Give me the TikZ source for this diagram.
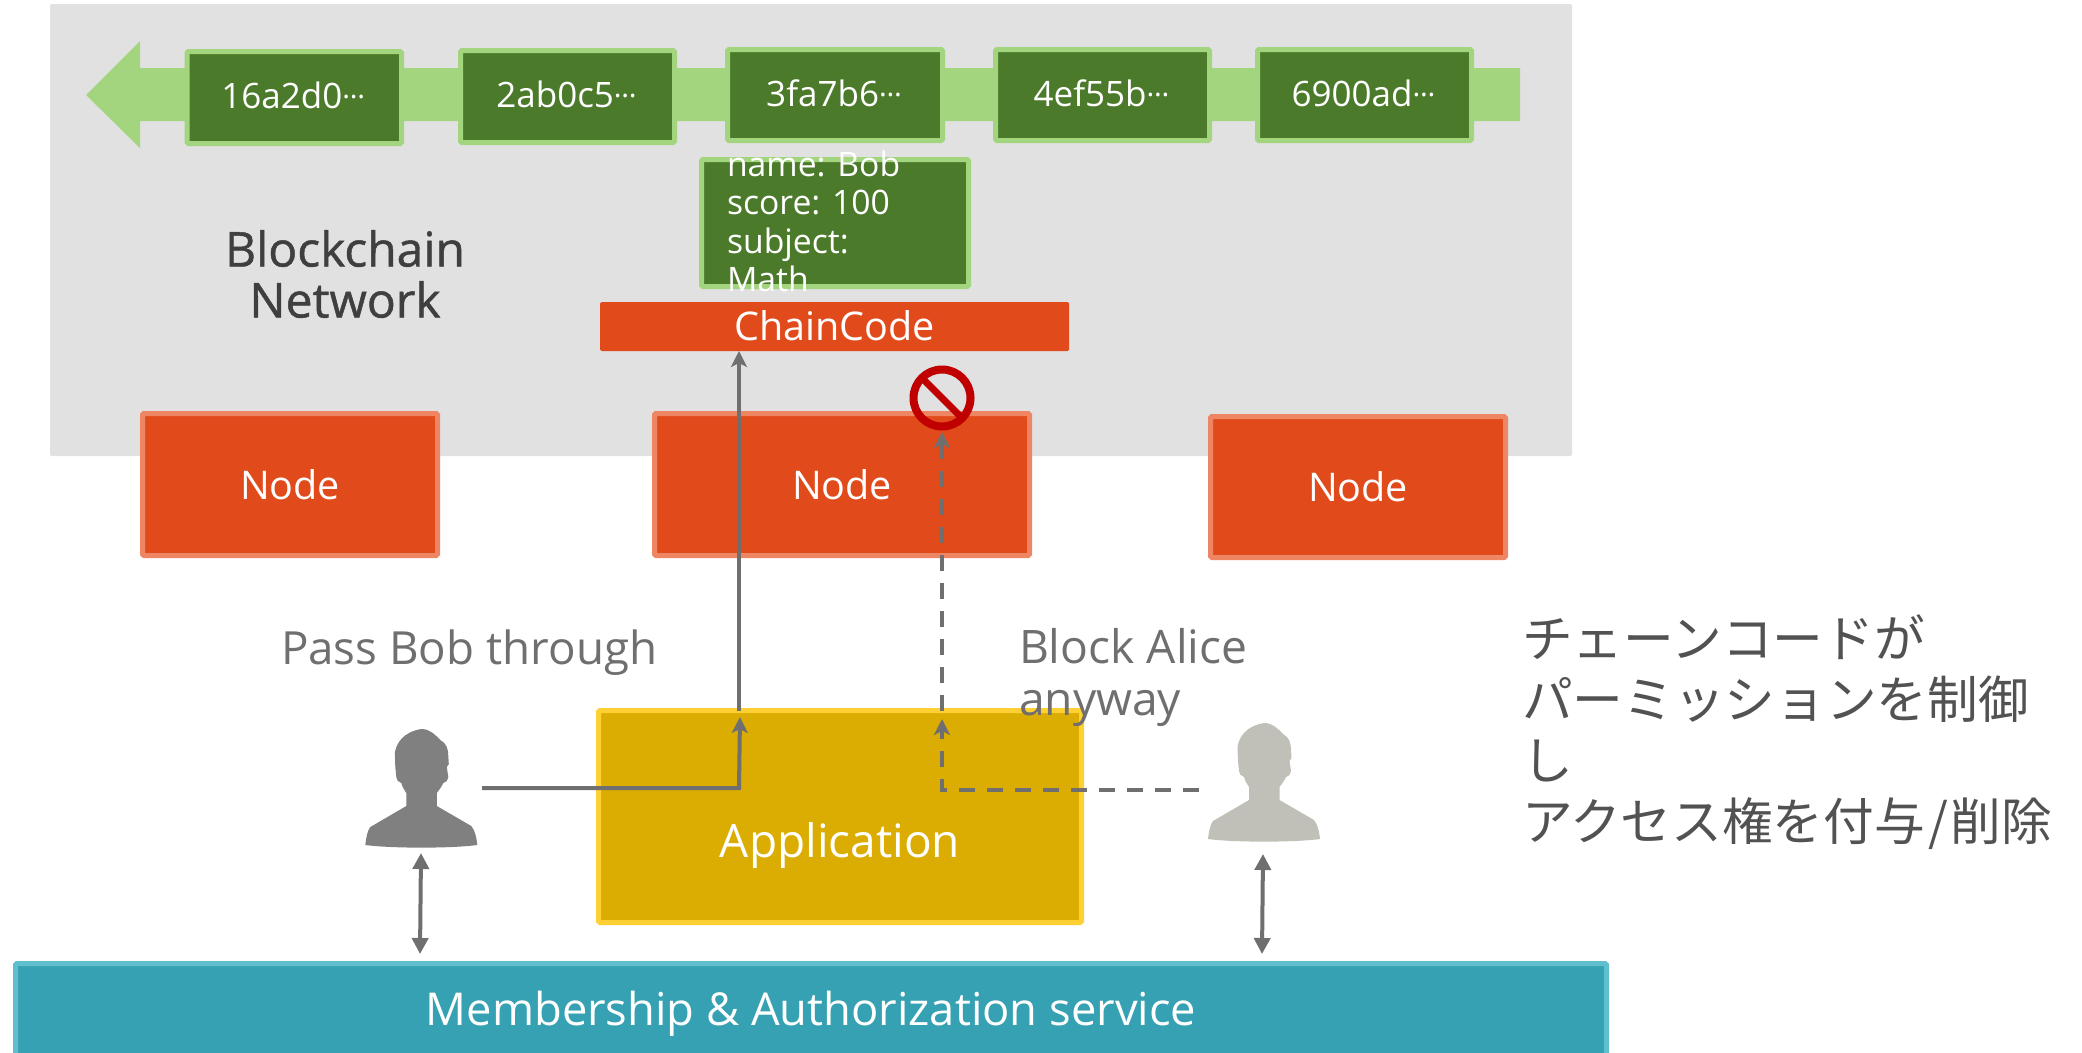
\documentclass[tikz,border=0pt]{standalone}
\usepackage{fontspec}
\setmainfont{Open Sans}
\newfontfamily\cjk{Noto Sans CJK JP}
\newfontfamily\titlefont[FakeBold=1.0]{Open Sans}
\usetikzlibrary{arrows.meta}
\definecolor{panelgrey}{HTML}{E1E1E1}
\definecolor{lgreen}{HTML}{A3D57F}
\definecolor{dgreen}{HTML}{4C7A2B}
\definecolor{orangefill}{HTML}{E14B1B}
\definecolor{orangeline}{HTML}{EE8563}
\definecolor{yellowfill}{HTML}{DBAC02}
\definecolor{yellowline}{HTML}{FFD033}
\definecolor{tealfill}{HTML}{36A1B2}
\definecolor{tealline}{HTML}{5FBFCE}
\definecolor{connector}{HTML}{6F6F6F}
\definecolor{darktext}{HTML}{3F3F3F}
\definecolor{signred}{HTML}{C00000}
\definecolor{personA}{HTML}{808080}
\definecolor{personB}{HTML}{C0C0B8}
\newcommand{\fsz}[1]{\fontsize{#1}{#1}\selectfont}
\newcommand{\blk}[1]{\smash{\raisebox{-11pt}{#1\raisebox{10pt}{\fsz{29}…}}}\kern2pt}
\newcommand{\bx}[7]{%
  \pgfmathsetmacro\cxv{(#2+#4)/2}\pgfmathsetmacro\cyv{(#3+#5)/2}%
  \pgfmathsetmacro\wwv{#4-#2-5}\pgfmathsetmacro\hhv{#5-#3-5}%
  \node[#6,minimum width=\wwv pt,minimum height=\hhv pt] (#1) at (\cxv,\cyv) {#7};}
\tikzset{
  x=1pt,y=-1pt,
  basebox/.style={draw,line width=5pt,inner sep=0pt,outer sep=0pt,text=white,rounded corners=1.5pt},
  blockbox/.style={basebox,fill=dgreen,draw=lgreen,font=\fsz{35}},
  nodebox/.style={basebox,fill=orangefill,draw=orangeline,font=\fsz{39.5}},
  appbox/.style={basebox,fill=yellowfill,draw=yellowline},
  svcbox/.style={basebox,fill=tealfill,draw=tealline},
  lbl/.style={inner sep=0pt,outer sep=0pt},
  conn/.style={draw=connector,line width=4pt,-{Stealth[length=16pt,width=16pt,inset=4pt]}},
  dashedconn/.style={dash pattern=on 16pt off 12pt},
  biconn/.style={draw=connector,line width=4pt,{Triangle[length=16pt,width=16pt]}-{Triangle[length=16pt,width=16pt]}},
  person/.pic={
    \fill[pic actions]
      (0,0) .. controls (9,0) and (14,6) .. (19,11)
      .. controls (25,14) and (27,20) .. (27,27)
      -- (27.5,35) -- (25.5,38) -- (27,48)
      .. controls (26,52) and (24,54) .. (22,54)
      .. controls (20,58) and (18,61) .. (15.5,64)
      -- (15.5,77) -- (50,97)
      .. controls (54,102) and (55,108) .. (56,116)
      .. controls (30,119.5) and (-30,119.5) .. (-56,116)
      .. controls (-55,108) and (-54,102) .. (-51,98)
      -- (-15,77) -- (-15,64)
      .. controls (-17,61) and (-19,58) .. (-20,54)
      .. controls (-23,53) and (-25,51) .. (-25,48)
      -- (-26,38) -- (-26.5,24)
      .. controls (-25,14) and (-18,3) .. (0,0) -- cycle;
  },
}
\begin{document}
\begin{tikzpicture}
\clip (0,0) rectangle (2082,1052);
\useasboundingbox (0,0) rectangle (2082,1052);
\fill[white] (0,0) rectangle (2082,1052);
% panel
\fill[panelgrey,rounded corners=2pt] (50,4) rectangle (1572,456);
% chain arrow
\fill[lgreen] (86,95) -- (140,41) -- (140,68) -- (1520,68) -- (1520,121) -- (140,121) -- (140,148) -- cycle;
% blocks
\bx{b1}{184.5}{49}{404}{146}{blockbox}{\blk{16a2d0}}
\bx{b2}{458}{48}{677}{145}{blockbox}{\blk{2ab0c5}}
\bx{b3}{725}{47}{945}{143}{blockbox}{\blk{3fa7b6}}
\bx{b4}{993}{47}{1212}{143}{blockbox}{\blk{4ef55b}}
\bx{b5}{1255}{47}{1474}{143}{blockbox}{\blk{6900ad}}
\bx{data}{699}{157}{971}{289}{blockbox}{}
\node[lbl,anchor=north west,align=left,text=white,font=\fontsize{33.7}{38.3}\selectfont] (datatext) at (727,151) {name: Bob\\score: 100\\subject:\\Math};
\node[lbl,rectangle,fill=orangefill,draw=none,rounded corners=1.5pt,minimum width=469pt,minimum height=49pt,text=white,font=\fsz{39.5}] (chain) at (834.5,326.5) {\smash{\raisebox{-14pt}{ChainCode}}};
\node[lbl,text=darktext,align=center,font=\fontsize{48}{51}\titlefont] (title) at (345,274) {Blockchain\\Network};
% nodes
\bx{n1}{140}{411}{440}{558}{nodebox}{Node}
\bx{n2}{652}{411}{1032}{558}{nodebox}{Node}
\bx{n3}{1208}{414}{1508}{560}{nodebox}{Node}
\bx{app}{596}{708}{1084}{925}{appbox}{}
\node[lbl,text=white,font=\fsz{46}] (apptext) at (840,846) {Application};
\bx{svc}{13}{961}{1609}{1066}{svcbox}{}
\node[lbl,text=white,font=\fsz{45.3}] (svctext) at (811,1014) {Membership \& Authorization service};
% labels
\node[lbl,anchor=west,text=connector,font=\fsz{45.7}] (pass) at (281,653) {Pass Bob through};
\node[lbl,anchor=north west,align=left,text=connector,font=\fontsize{46.2}{52}\selectfont] (blockl) at (1019,628) {Block Alice\\anyway};
\node[lbl,anchor=west,align=left,text=darktext!90,font=\fontsize{50.7}{61}\cjk\selectfont] (note) at (1522,732) {チェーンコードが\\パーミッションを制御\\し\\アクセス権を付与\kern3pt/\kern3pt削除};
% people
\pic[personA] (bob) at (421.3,729) {person};
\pic[personB] (alice) at (1264,723) {person};
% connector points
\coordinate (bobout) at (482,788);
\coordinate (bobturn) at (739,788);
\coordinate (appin) at (740,717);
\coordinate (appout) at (739,711);
\coordinate (chainin) at (739,351);
\coordinate (aliceout) at (1199,790);
\coordinate (aliceturn) at (942,790);
\coordinate (appin2) at (942,719);
\coordinate (appout2) at (942,711);
\coordinate (signin) at (942,432);
\coordinate (bobup) at (421,853);
\coordinate (bobdn) at (420,954);
\coordinate (aliceup) at (1263,854);
\coordinate (alicedn) at (1262,954);
% connectors
\draw[conn] (bobout) -- (bobturn) -- (appin);
\draw[conn] (appout) -- (chainin);
\draw[conn,dashedconn] (aliceout) -- (aliceturn) -- (appin2);
\draw[conn,dashedconn] (appout2) -- (signin);
\draw[biconn] (bobup) -- (bobdn);
\draw[biconn] (aliceup) -- (alicedn);
% prohibition sign
\node[lbl,circle,draw=signred,line width=8pt,minimum size=57pt] (sign) at (942,398) {};
\draw[draw=signred,line width=7pt] (sign.north west) -- (sign.south east);
\end{tikzpicture}
\end{document}
